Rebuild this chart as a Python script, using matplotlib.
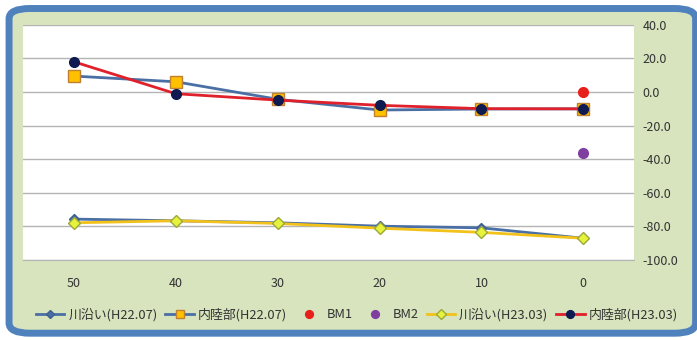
import matplotlib
matplotlib.use("Agg")
import matplotlib.pyplot as plt
from matplotlib.patches import FancyBboxPatch

plt.rcParams['font.family'] = ['Noto Sans CJK JP', 'DejaVu Sans']

# category labels (distance), left to right
categories = ['50', '40', '30', '20', '10', '0']

kawazoi_h22 = [-75.6, -76.6, -77.8, -79.8, -80.8, -87.0]
nairiku_h22 = [9.5, 6.1, -4.3, -10.7, -10.1, -10.0]
kawazoi_h23 = [-77.8, -76.6, -78.2, -81.0, -83.5, -87.0]
nairiku_h23 = [18.0, -1.0, -4.8, -7.9, -9.9, -10.0]
bm1 = [None, None, None, None, None, 0.0]
bm2 = [None, None, None, None, None, -36.5]

yticks = [40, 20, 0, -20, -40, -60, -80, -100]

fig = plt.figure(figsize=(6.97, 3.40), dpi=100)

# rounded frame behind everything
frame = FancyBboxPatch((0.013, 0.02), 0.985, 0.955,
                       boxstyle="round,pad=0,rounding_size=0.03",
                       transform=fig.transFigure, facecolor='#D7E4BD',
                       edgecolor='#4F81BD', linewidth=5, zorder=-5)
fig.patches.append(frame)

ax = fig.add_axes([0.033, 0.235, 0.877, 0.692])
ax.set_zorder(2)
ax.set_facecolor('white')
x = list(range(len(categories)))

ax.plot(x, kawazoi_h22, color='#4A6FA5', lw=2, marker='D', ms=5,
        mfc='#4A6FA5', mec='#3A5F90', label='川沿い(H22.07)', zorder=3)
ax.plot(x, nairiku_h22, color='#4A6FA5', lw=2, marker='s', ms=8,
        mfc='#FFC000', mec='#C08030', label='内陸部(H22.07)', zorder=3)
ax.plot(x, bm1, color='#E8201A', lw=0, marker='o', ms=7,
        mec='#E8201A', label='BM1', zorder=4)
ax.plot(x, bm2, color='#7E3FA0', lw=0, marker='o', ms=7,
        mec='#7E3FA0', label='BM2', zorder=4)
ax.plot(x, kawazoi_h23, color='#F2C21B', lw=2, marker='D', ms=6,
        mfc='#E6F23C', mec='#9BA83A', label='川沿い(H23.03)', zorder=4)
ax.plot(x, nairiku_h23, color='#E0202A', lw=2, marker='o', ms=7,
        mfc='#0E1A50', mec='#0E1A50', label='内陸部(H23.03)', zorder=5)

ax.set_xlim(-0.5, len(categories) - 0.5)
ax.set_xticks(x)
ax.set_xticklabels(categories)
ax.set_ylim(-100, 40)
ax.set_yticks(yticks)
ax.set_yticklabels([f'{v:.1f}' for v in yticks])
ax.yaxis.tick_right()
ax.tick_params(axis='both', length=0, labelsize=9, colors='#333333')
ax.tick_params(axis='x', pad=12)
ax.tick_params(axis='y', pad=6)
ax.grid(axis='y', color='#B4B4B4', lw=1)
ax.set_axisbelow(True)
for s in ax.spines.values():
    s.set_visible(False)
ax.spines['bottom'].set_visible(True)
ax.spines['bottom'].set_color('#B4B4B4')

leg = fig.legend(loc='center', bbox_to_anchor=(0.512, 0.075), ncol=6,
                 frameon=False, fontsize=9.3, handlelength=2.2,
                 columnspacing=0.6, handletextpad=0.3, markerscale=0.8)
for t in leg.get_texts():
    t.set_color('#333333')

fig.savefig('out.png', dpi=100)
